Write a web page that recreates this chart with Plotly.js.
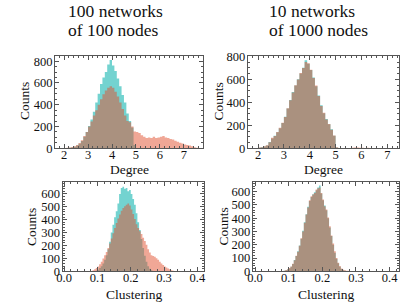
<!DOCTYPE html>
<html>
<head>
<meta charset="utf-8">
<script src="https://cdn.plot.ly/plotly-3.0.1.min.js"></script>
<style>html,body{margin:0;padding:0;background:#fff}#chart{width:407px;height:305px}</style>
</head>
<body>
<div id="chart"></div>
<script>
// ---- Data ----
var panelTitles = [["100 networks", "of 100 nodes"], ["10 networks", "of 1000 nodes"]];
var xLabels = ["Degree", "Clustering"];
var yLabel = "Counts";

// Degree histograms: bins of width 0.1 starting at 2.0
var degreeBinStart = 2.0, degreeBinWidth = 0.1;
var deg100Teal = [0,2,4,8,14,25,42,68,105,150,205,265,335,420,500,590,650,700,770,810,760,710,640,570,490,420,320,250,190,30,3,0,0,0,0,0,0,0,0,0,0,0,0,0,0,0,0,0,0,0,0,0,0,0,0,0];
var deg100Salmon = [3,5,8,12,18,30,48,75,112,150,200,245,300,350,400,450,495,530,555,570,555,520,475,420,360,300,250,240,200,155,150,140,120,105,95,100,95,105,95,100,105,112,100,95,85,80,70,60,50,45,35,30,25,18,10,5];
var deg1000Teal = [5,9,15,25,55,85,110,140,175,220,275,345,420,490,545,600,650,700,765,735,680,615,540,460,375,305,255,210,165,110,8,2,1,0,0,0,0,0,0,0,0,0,0,0,0,0,0,0,0,0,0,0,0,0,0,0];
var deg1000Salmon = [6,10,17,27,52,92,108,142,178,222,272,348,418,485,548,598,655,698,750,740,682,612,545,455,368,310,250,212,162,112,10,3,1,0,0,2,5,6,8,5,4,3,4,2,3,2,0,0,0,0,0,0,0,0,0,0];

// Clustering histograms: bins of width 0.005 starting at 0.08
var clusBinStart = 0.08, clusBinWidth = 0.005;
var clus100Teal = [0,0,2,5,12,25,40,60,90,125,170,230,300,360,420,465,525,600,645,655,640,645,620,630,600,560,515,450,380,320,250,180,120,75,40,20,8,3,0,0,0,0,0,0,0,0,0,0,0,0];
var clus100Salmon = [3,8,15,25,38,55,75,100,125,150,180,215,255,295,335,375,410,440,470,490,505,515,525,510,480,445,405,365,335,310,290,260,235,205,170,145,125,118,112,102,90,75,60,48,38,30,22,15,9,4];
var clus1000Teal = [2,4,8,14,22,35,55,85,115,150,195,245,305,370,430,485,530,560,580,595,610,630,645,585,535,495,460,400,330,265,200,140,95,60,35,18,8,4,2,1,0,0,0,0,0,0,0,0,0,0];
var clus1000Salmon = [2,5,9,15,24,36,57,83,118,148,192,248,300,365,428,480,535,565,578,590,615,625,630,590,540,490,465,405,340,270,210,150,100,65,40,22,12,8,5,4,3,2,0,0,0,0,0,0,0,0];

// ---- Styling ----
var tealFill = "rgba(0,175,170,0.55)";
var salmonFill = "rgba(225,80,45,0.5)";
var serif = "Liberation Serif";
var W = 407, H = 305;
function px(x) { return x / W; }
function py(y) { return 1 - y / H; }

function stepTrace(start, width, counts, color, xa, ya) {
  var xs = [], ys = [];
  for (var i = 0; i < counts.length; i++) { xs.push(start + i * width); ys.push(counts[i]); }
  xs.push(start + counts.length * width); ys.push(0);
  return {type: "scatter", mode: "lines", x: xs, y: ys, line: {shape: "hv", width: 0, color: color},
          fill: "tozeroy", fillcolor: color, xaxis: xa, yaxis: ya, hoverinfo: "skip", showlegend: false};
}

var traces = [
  stepTrace(degreeBinStart, degreeBinWidth, deg100Teal, tealFill, "x", "y"),
  stepTrace(degreeBinStart, degreeBinWidth, deg100Salmon, salmonFill, "x", "y"),
  stepTrace(degreeBinStart, degreeBinWidth, deg1000Teal, tealFill, "x2", "y2"),
  stepTrace(degreeBinStart, degreeBinWidth, deg1000Salmon, salmonFill, "x2", "y2"),
  stepTrace(clusBinStart, clusBinWidth, clus100Teal, tealFill, "x3", "y3"),
  stepTrace(clusBinStart, clusBinWidth, clus100Salmon, salmonFill, "x3", "y3"),
  stepTrace(clusBinStart, clusBinWidth, clus1000Teal, tealFill, "x4", "y4"),
  stepTrace(clusBinStart, clusBinWidth, clus1000Salmon, salmonFill, "x4", "y4")
];

var frameColor = "#555";
var tickFont = {family: serif, size: 12.5, color: "#111"};
function axis(domain, range, dtick, minorDtick, anchor, fmt, standoff) {
  return {domain: domain, range: range, anchor: anchor, dtick: dtick, tick0: 0,
    showline: true, linecolor: frameColor, linewidth: 1, mirror: "ticks",
    ticks: "inside", ticklen: 4, tickwidth: 1, tickcolor: frameColor,
    minor: {ticks: "inside", ticklen: 2, dtick: minorDtick, tick0: 0, tickcolor: frameColor, showgrid: false},
    showgrid: false, zeroline: false, tickfont: tickFont, tickformat: fmt || "", fixedrange: true,
    ticklabelstandoff: standoff};
}

var yTop = [py(148.3), py(55.7)];
var yBot = [py(271.3), py(182.3)];

var layout = {
  width: W, height: H, margin: {l: 0, r: 0, t: 0, b: 0},
  paper_bgcolor: "#fff", plot_bgcolor: "#fff", showlegend: false,
  font: {family: serif},
  xaxis: axis([px(55), px(203)], [1.62, 7.8], 1, 0.2, "y", "", -5),
  yaxis: axis(yTop, [0, 850], 200, 50, "x", "", -1),
  xaxis2: axis([px(247.7), px(398.7)], [1.6, 7.44], 1, 0.2, "y2", "", -5),
  yaxis2: axis(yTop, [0, 805], 200, 50, "x2", "", -1),
  xaxis3: axis([px(62.5), px(204)], [-0.005, 0.42], 0.1, 0.02, "y3", ".1f", -5),
  yaxis3: axis(yBot, [0, 690], 100, 20, "x3", "", -1),
  xaxis4: axis([px(252.7), px(399)], [-0.007, 0.428], 0.1, 0.02, "y4", ".1f", -5),
  yaxis4: axis(yBot, [0, 670], 100, 20, "x4", "", -1),
  annotations: []
};

function ann(text, x, y, size, opts) {
  var a = {text: text, x: px(x), y: py(y), xref: "paper", yref: "paper", showarrow: false,
           xanchor: "center", yanchor: "middle", font: {family: serif, size: size, color: "#111"}};
  for (var k in opts) a[k] = opts[k];
  layout.annotations.push(a);
}
// panel titles (left-aligned lines)
ann(panelTitles[0][0], 66, 11.5, 17.5, {xanchor: "left"});
ann(panelTitles[0][1], 66, 29.5, 17.5, {xanchor: "left"});
ann(panelTitles[1][0], 267, 11.5, 17.5, {xanchor: "left"});
ann(panelTitles[1][1], 267, 29.5, 17.5, {xanchor: "left"});
// axis labels
ann(yLabel, 24, 101, 13.5, {textangle: -90});
ann(yLabel, 217.5, 101, 13.5, {textangle: -90});
ann(yLabel, 31, 227, 13.5, {textangle: -90});
ann(yLabel, 222.5, 227, 13.5, {textangle: -90});
ann(xLabels[0], 129, 170, 13.5, {});
ann(xLabels[0], 323, 170, 13.5, {});
ann(xLabels[1], 134, 294, 13.5, {});
ann(xLabels[1], 326, 294, 13.5, {});

Plotly.newPlot("chart", traces, layout, {staticPlot: true, displayModeBar: false});
</script>
</body>
</html>
